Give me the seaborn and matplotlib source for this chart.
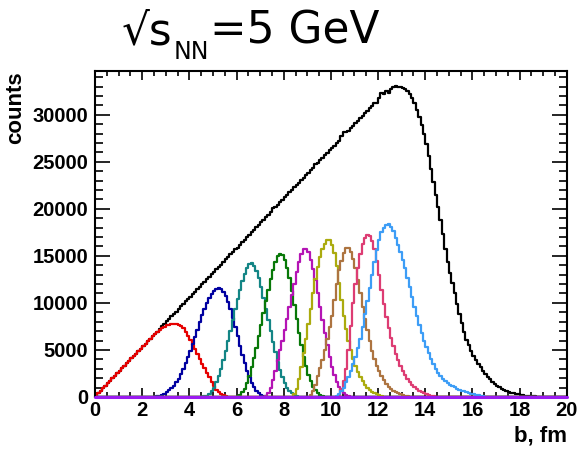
import numpy as np
import pandas as pd
import matplotlib
matplotlib.use("Agg")
import matplotlib.pyplot as plt
import seaborn as sns
from matplotlib.ticker import MultipleLocator

# ------------------------------------------------------
# impact parameter histograms, bins of 0.1 fm from 0 to 20 fm
edges = np.linspace(0, 20, 201)
centers = 0.5 * (edges[:-1] + edges[1:])

# all events (starts at b = 0)
black = [
    130, 400, 660, 910, 1200, 1450, 1700, 1990, 2240, 2510,
    2780, 3030, 3300, 3560, 3810, 4100, 4350, 4600, 4870, 5150,
    5400, 5650, 5930, 6180, 6460, 6720, 6960, 7250, 7510, 7760,
    8050, 8280, 8560, 8830, 9080, 9350, 9620, 9860, 10150, 10400,
    10680, 10930, 11200, 11460, 11720, 11990, 12250, 12500, 12790, 13030,
    13300, 13560, 13850, 14080, 14360, 14620, 14880, 15150, 15400, 15680,
    15850, 16200, 16450, 16730, 17000, 17250, 17520, 17790, 18040, 18310,
    18580, 18840, 19100, 19360, 19640, 20050, 20150, 20430, 20680, 20950,
    21220, 21480, 21740, 22000, 22280, 22530, 22700, 23070, 23320, 23580,
    23860, 24110, 24380, 24750, 24900, 25160, 25430, 25680, 25950, 26220,
    26480, 26730, 27000, 27260, 27700, 28150, 28200, 28300, 28580, 28840,
    29110, 29360, 29620, 29890, 30160, 30400, 30670, 30930, 31200, 31300,
    31800, 32300, 32250, 32500, 32350, 32700, 33000, 33050, 32950, 32950,
    32850, 32720, 32500, 32200, 31800, 31250, 30550, 29800, 28950, 28000,
    26900, 25600, 24200, 22900, 21500, 20200, 18800, 17300, 15700, 14400,
    13200, 12100, 11000, 9900, 8800, 7900, 6900, 6100, 5500, 4900,
    4400, 3950, 3550, 3150, 2800, 2450, 2150, 1880, 1620, 1400,
    1200, 1020, 880, 740, 630, 530, 450, 380, 320, 270,
    220, 180, 150, 120, 95, 75, 55, 40, 28, 18,
    10]

# centrality classes: (first bin lower edge in fm, counts)
red_start = 0.0
red = [
    130, 400, 660, 910, 1200, 1450, 1700, 1990, 2240, 2510,
    2780, 3030, 3300, 3560, 3810, 4100, 4350, 4600, 4870, 5150,
    5400, 5650, 5930, 6180, 6460, 6720, 6930, 7140, 7330, 7480,
    7600, 7690, 7750, 7770, 7750, 7690, 7550, 7300, 6950, 6500,
    6050, 5550, 5050, 4550, 4050, 3550, 3050, 2550, 2100, 1600,
    1150, 780, 500, 320, 190, 100, 45, 15]

blue_start = 2.5
blue = [
    20, 60, 130, 230, 360, 520, 720, 950, 1220, 1550,
    1950, 2450, 3000, 3600, 4250, 4900, 5600, 6350, 7150, 7950,
    8700, 9400, 10000, 10500, 10950, 11300, 11500, 11560, 11450, 11150,
    10700, 10100, 9300, 8400, 7450, 6450, 5450, 4500, 3600, 2800,
    2100, 1500, 1020, 680, 420, 250, 130, 60, 20]

teal_start = 4.5
teal = [
    20, 60, 150, 320, 600, 1000, 1550, 2200, 3000, 3900,
    4850, 5900, 7000, 8150, 9300, 10400, 11400, 12300, 13100, 13700,
    14150, 14200, 13950, 13400, 12600, 11650, 10550, 9400, 8200, 7000,
    5850, 4750, 3750, 2850, 2100, 1500, 1000, 640, 380, 200,
    90, 30]

green_start = 5.9
green = [
    20, 80, 220, 480, 900, 1500, 2250, 3150, 4150, 5250,
    6450, 7700, 8950, 10200, 11400, 12500, 13500, 14300, 14950, 15200,
    15100, 14600, 13750, 12600, 11250, 9800, 8300, 6850, 5500, 4300,
    3250, 2350, 1650, 1100, 700, 420, 230, 110, 40]

magenta_start = 7.1
magenta = [
    30, 150, 450, 1000, 1800, 2800, 3900, 5000, 6000, 7100,
    8300, 9600, 10800, 12000, 13300, 14400, 15200, 15700, 15750, 15400,
    14600, 13600, 12400, 11000, 9600, 8200, 6800, 5500, 4300, 3200,
    2300, 1600, 1050, 650, 380, 200, 90, 30]

olive_start = 8.3
olive = [
    50, 300, 900, 1900, 3200, 4700, 6200, 7800, 9400, 11000,
    12500, 13800, 14900, 15700, 16300, 16700, 16650, 16200, 15300, 13900,
    12100, 10300, 8600, 7200, 6000, 4950, 4050, 3300, 2650, 2100,
    1650, 1300, 1000, 760, 560, 400, 270, 170, 100, 50]

brown_start = 9.0
brown = [
    30, 200, 600, 1300, 2200, 3100, 3900, 5000, 6200, 7400,
    8600, 10300, 12000, 13500, 14500, 15300, 15800, 15800, 15400, 14700,
    13700, 12400, 11000, 9600, 8300, 7100, 6000, 4900, 4000, 3300,
    2750, 2250, 1800, 1400, 1050, 800, 620, 480, 370, 270,
    190, 120, 60, 20]

pink_start = 10.2
pink = [
    30, 250, 800, 1700, 3000, 5000, 7500, 10000, 12000, 13700,
    15200, 16300, 16900, 17200, 17100, 16600, 15700, 14500, 13000, 11400,
    9900, 8500, 7300, 6300, 5400, 4600, 3900, 3300, 2800, 2350,
    1950, 1600, 1300, 1050, 830, 650, 500, 380, 280, 200,
    130, 70, 30]

azure_start = 10.1
azure = [
    20, 100, 300, 600, 1000, 1550, 2100, 2800, 3500, 4300,
    5200, 6200, 7400, 8800, 10200, 11600, 13000, 14400, 15600, 16700,
    17500, 18000, 18300, 18350, 18100, 17600, 16900, 16200, 15400, 14600,
    13700, 12700, 11700, 10600, 9600, 8600, 7600, 6800, 6000, 5300,
    4650, 4050, 3500, 3000, 2600, 2250, 1950, 1700, 1500, 1320,
    1160, 1020, 890, 780, 680, 590, 510, 430, 360, 290,
    230, 170, 120, 80, 45, 20]

# ------------------------------------------------------
classes = [
    ("all", 0.0, black, "#000000"),
    ("c0", red_start, red, "#e60000"),
    ("c1", blue_start, blue, "#0000a0"),
    ("c2", teal_start, teal, "#138585"),
    ("c3", green_start, green, "#087808"),
    ("c4", magenta_start, magenta, "#b414b4"),
    ("c5", olive_start, olive, "#abab0e"),
    ("c6", brown_start, brown, "#ad7440"),
    ("c7", pink_start, pink, "#dd3c73"),
    ("c8", azure_start, azure, "#3d9df6"),
]


def full_hist(start, counts):
    w = np.zeros(len(centers))
    i0 = int(round(start / 0.1))
    w[i0:i0 + len(counts)] = counts
    return w


sns.set_style("ticks", {"axes.edgecolor": "black", "text.color": "black",
                        "xtick.color": "black", "ytick.color": "black",
                        "axes.labelcolor": "black"})
plt.rcParams["font.family"] = ["Liberation Sans", "DejaVu Sans"]

fig = plt.figure(figsize=(5.79, 4.54), dpi=100)
ax = fig.add_axes([0.164, 0.1256, 0.815, 0.718])

for name, start, counts, col in classes:
    df = pd.DataFrame({"b": centers, "counts": full_hist(start, counts)})
    sns.histplot(data=df, x="b", weights="counts", bins=len(centers),
                 binrange=(edges[0], edges[-1]), element="step",
                 fill=False, color=col, linewidth=1.6, ax=ax)

# empty class drawn along the axis
ax.axhline(0, color="#9b1bf0", linewidth=2.2, zorder=5, clip_on=False)

ax.set_xlim(0, 20)
ax.set_ylim(0, 34650)
ax.xaxis.set_major_locator(MultipleLocator(2))
ax.xaxis.set_minor_locator(MultipleLocator(0.5))
ax.yaxis.set_major_locator(MultipleLocator(5000))
ax.yaxis.set_minor_locator(MultipleLocator(1000))
ax.tick_params(which="both", direction="in", top=True, right=True, width=1.2,
               color="black", labelcolor="black")
ax.tick_params(axis="x", which="major", length=6.5, pad=3)
ax.tick_params(axis="x", which="minor", length=3.6)
ax.tick_params(axis="y", which="major", length=10.8, pad=5)
ax.tick_params(axis="y", which="minor", length=5.5)
for lab in ax.get_xticklabels() + ax.get_yticklabels():
    lab.set_fontsize(14.5)
    lab.set_fontweight("bold")
for s in ax.spines.values():
    s.set_linewidth(1.5)
    s.set_color("black")

ax.set_xlabel("b, fm", loc="right", fontsize=16, fontweight="bold",
              labelpad=4, color="black")
ax.set_ylabel("counts", loc="top", fontsize=16, fontweight="bold",
              labelpad=4, color="black")

# title: sqrt(s_NN) = 5 GeV, built from pieces so the subscript sits low
tfont = ["DejaVu Sans"]
t1 = fig.text(122 / 579, 1 - 44 / 454, "√s", fontsize=31.5, family=tfont,
              ha="left", va="baseline", color="black")
fig.canvas.draw()
r = fig.canvas.get_renderer()
bb = t1.get_window_extent(r)
t2 = fig.text((bb.x1 + 1) / fig.bbox.width, 1 - 59 / 454, "NN", fontsize=17,
              family=tfont, ha="left", va="baseline", color="black")
bb2 = t2.get_window_extent(r)
fig.text((bb2.x1 + 1) / fig.bbox.width, 1 - 44 / 454, "=5 GeV", fontsize=31.5,
         family=tfont, ha="left", va="baseline", color="black")

plt.savefig("out.png", dpi=100)
